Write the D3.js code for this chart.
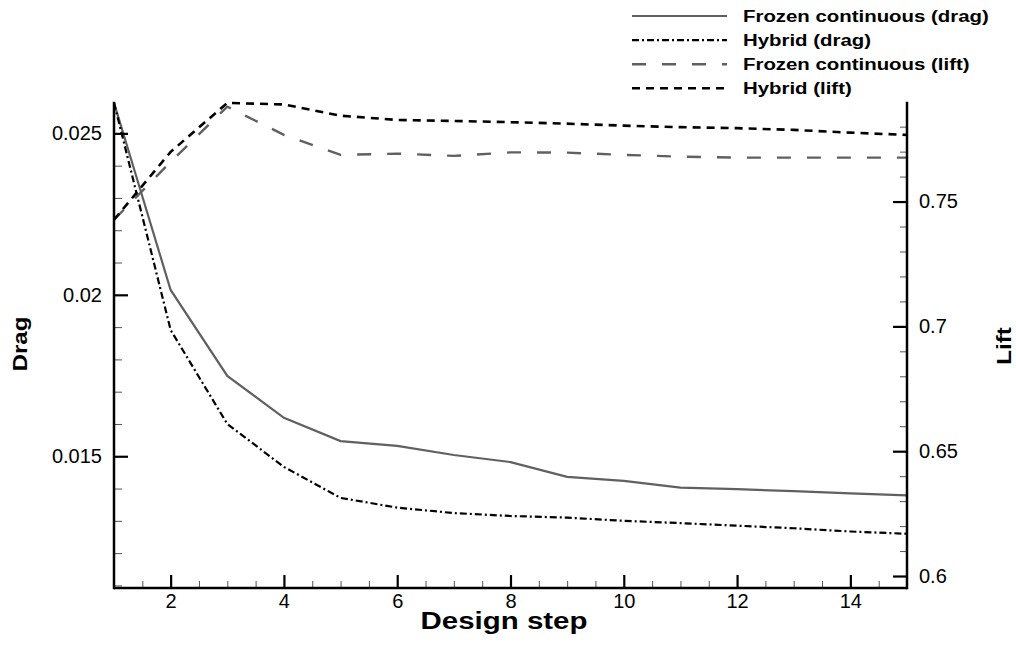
<!DOCTYPE html>
<html>
<head>
<meta charset="utf-8">
<script src="https://cdn.jsdelivr.net/npm/d3@7"></script>
<style>
  body { margin: 0; background: #fff; }
  svg { display: block; font-family: "Liberation Sans", Arial, Helvetica, sans-serif; }
</style>
</head>
<body>
<div id="chart"></div>
<script>
// データ ---------------------------------------------------------------------
const steps = [1, 2, 3, 4, 5, 6, 7, 8, 9, 10, 11, 12, 13, 14, 15];
const frozenDrag = [0.02595, 0.02015, 0.01749, 0.01619, 0.01547, 0.01532, 0.01504, 0.01482,
  0.01436, 0.01424, 0.01403, 0.01398, 0.01392, 0.01385, 0.01379];
const hybridDrag = [0.02595, 0.01891, 0.016, 0.01467, 0.01371, 0.01341, 0.01324, 0.01315,
  0.0131, 0.013, 0.01293, 0.01285, 0.01277, 0.01267, 0.0126];
const frozenLift = [0.7427, 0.7659, 0.788, 0.7767, 0.7687, 0.7692, 0.7683, 0.7697,
  0.7696, 0.7687, 0.768, 0.7676, 0.7676, 0.7676, 0.7676];
const hybridLift = [0.7427, 0.7699, 0.7895, 0.7889, 0.7844, 0.7827, 0.7823, 0.7818,
  0.7812, 0.7804, 0.7798, 0.7794, 0.7787, 0.7776, 0.7767];
const xTicks = [2, 4, 6, 8, 10, 12, 14];
const dragTicks = [0.015, 0.02, 0.025];
const liftTicks = [0.6, 0.65, 0.7, 0.75];
const legendLabels = ['Frozen continuous (drag)', 'Hybrid (drag)', 'Frozen continuous (lift)', 'Hybrid (lift)'];

// SVG領域 ---------------------------------------------------------------------
const width = 1016, height = 645;
const plotL = 114, plotR = 907, plotT = 102.7, plotB = 588;
const svg = d3.select('#chart').append('svg')
  .attr('width', width)
  .attr('height', height);

const x = d3.scaleLinear().domain([1, 15]).range([plotL, plotR]);
const yDrag = d3.scaleLinear().domain([0.01092, 0.02595]).range([plotB, plotT]);
const yLift = d3.scaleLinear().domain([0.5952, 0.7896]).range([plotB, plotT]);

// 系列 ---------------------------------------------------------------------
const series = [
  {values: frozenDrag, scale: yDrag, color: '#606060', width: 2.2, dash: null},
  {values: hybridDrag, scale: yDrag, color: '#000', width: 2.2, dash: '7,3,2,3'},
  {values: frozenLift, scale: yLift, color: '#606060', width: 2.4, dash: '14,16'},
  {values: hybridLift, scale: yLift, color: '#000', width: 2.6, dash: '8,6'}
];

series.forEach(s => {
  const line = d3.line()
    .x((d, i) => x(steps[i]))
    .y(d => s.scale(d));
  svg.append('path')
    .datum(s.values)
    .attr('fill', 'none')
    .attr('stroke', s.color)
    .attr('stroke-width', s.width)
    .attr('stroke-dasharray', s.dash)
    .attr('d', line);
});

// 軸 ---------------------------------------------------------------------
const styleAxis = (g, major) => {
  g.select('.domain').remove();
  g.selectAll('.tick line')
    .attr('stroke', major ? '#000' : '#555')
    .attr('stroke-width', major ? 2.2 : 1);
  g.selectAll('.tick text')
    .attr('font-size', '20px')
    .attr('fill', '#000')
    .attr('font-family', '"Liberation Sans", Arial, sans-serif');
};

const range = (a, b, s) => d3.range(Math.round((b - a) / s) + 1).map(i => +(a + i * s).toFixed(4));

// 下 (x)
svg.append('g')
  .attr('transform', 'translate(0,' + plotB + ')')
  .call(d3.axisBottom(x).tickValues(range(1.5, 14.5, 0.5).filter(v => v % 2 !== 0)).tickSize(-7).tickFormat(''))
  .call(g => styleAxis(g, false));
svg.append('g')
  .attr('transform', 'translate(0,' + plotB + ')')
  .call(d3.axisBottom(x).tickValues(xTicks).tickSize(-13).tickPadding(6).tickFormat(d => d))
  .call(g => styleAxis(g, true));

// 左 (drag)
svg.append('g')
  .attr('transform', 'translate(' + plotL + ',0)')
  .call(d3.axisLeft(yDrag).tickValues(range(0.011, 0.025, 0.001).filter(v => !dragTicks.includes(v))).tickSize(-8).tickFormat(''))
  .call(g => styleAxis(g, false));
svg.append('g')
  .attr('transform', 'translate(' + plotL + ',0)')
  .call(d3.axisLeft(yDrag).tickValues(dragTicks).tickSize(-14).tickPadding(12).tickFormat(d => String(d)))
  .call(g => styleAxis(g, true));

// 右 (lift)
svg.append('g')
  .attr('transform', 'translate(' + plotR + ',0)')
  .call(d3.axisRight(yLift).tickValues(range(0.61, 0.78, 0.01).filter(v => !liftTicks.includes(v))).tickSize(-7).tickFormat(''))
  .call(g => styleAxis(g, false));
svg.append('g')
  .attr('transform', 'translate(' + plotR + ',0)')
  .call(d3.axisRight(yLift).tickValues(liftTicks).tickSize(-14).tickPadding(12).tickFormat(d => String(d)))
  .call(g => styleAxis(g, true));

// 軸線
const frame = svg.append('g').attr('stroke', '#000').attr('stroke-width', 2.5);
frame.append('line').attr('x1', plotL).attr('x2', plotL).attr('y1', plotT - 1).attr('y2', plotB + 1.25);
frame.append('line').attr('x1', plotR).attr('x2', plotR).attr('y1', plotT - 1).attr('y2', plotB + 1.25);
frame.append('line').attr('x1', plotL).attr('x2', plotR).attr('y1', plotB).attr('y2', plotB);

// 軸タイトル (横に広い太字)
const boldText = (tx, ty, rot, size, sx, str, anchor) => {
  svg.append('g')
    .attr('transform', 'translate(' + tx + ',' + ty + ') rotate(' + rot + ') scale(' + sx + ',1)')
    .append('text')
    .attr('font-weight', 'bold')
    .attr('font-size', size + 'px')
    .attr('text-anchor', anchor)
    .text(str);
};
boldText(504, 629, 0, 23, 1.28, 'Design step', 'middle');
boldText(27, 344, -90, 20, 1.2, 'Drag', 'middle');
boldText(1011, 346, -90, 20, 1.2, 'Lift', 'middle');

// 凡例 ---------------------------------------------------------------------
const legend = svg.append('g');
series.forEach((s, i) => {
  const ly = 16 + i * 24.1;
  legend.append('line')
    .attr('x1', 632).attr('x2', 727)
    .attr('y1', ly).attr('y2', ly)
    .attr('stroke', s.color)
    .attr('stroke-width', s.width)
    .attr('stroke-dasharray', s.dash);
  legend.append('g')
    .attr('transform', 'translate(743,' + (ly + 6) + ') scale(1.2,1)')
    .append('text')
    .attr('font-weight', 'bold')
    .attr('font-size', '17px')
    .text(legendLabels[i]);
});
</script>
</body>
</html>
